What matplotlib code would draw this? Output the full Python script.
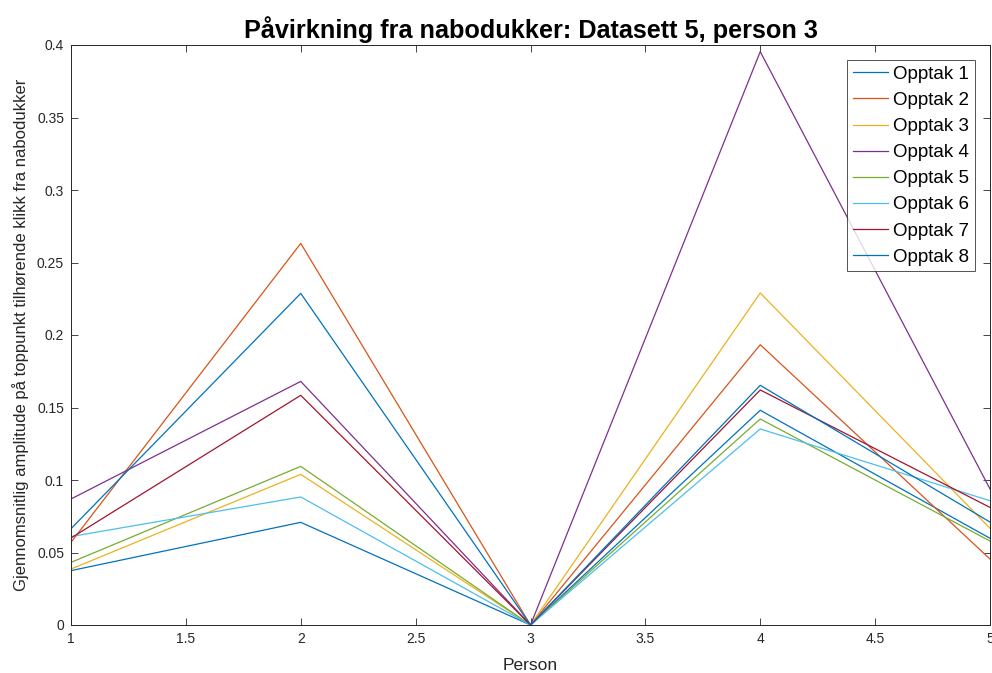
import matplotlib
matplotlib.use("Agg")
import matplotlib.pyplot as plt

plt.rcParams['font.family'] = ['Liberation Sans', 'DejaVu Sans']

persons = [1, 2, 3, 4, 5]
labels = [f"Opptak {i}" for i in range(1, 9)]

opptak_1 = [0.0375, 0.0708, 0.0, 0.1481, 0.0598]
opptak_2 = [0.0570, 0.2632, 0.0, 0.1933, 0.0455]
opptak_3 = [0.0386, 0.1039, 0.0, 0.2290, 0.0667]
opptak_4 = [0.0869, 0.1680, 0.0, 0.3954, 0.0938]
opptak_5 = [0.0432, 0.1094, 0.0, 0.1421, 0.0579]
opptak_6 = [0.0610, 0.0883, 0.0, 0.1352, 0.0857]
opptak_7 = [0.0600, 0.1584, 0.0, 0.1621, 0.0811]
opptak_8 = [0.0664, 0.2287, 0.0, 0.1653, 0.0710]
series = [opptak_1, opptak_2, opptak_3, opptak_4,
          opptak_5, opptak_6, opptak_7, opptak_8]

colors = ['#0072BD', '#D95319', '#EDB120', '#7E2F8E',
          '#77AC30', '#4DBEEE', '#A2142F', '#0072BD']

x_ticks = [1, 1.5, 2, 2.5, 3, 3.5, 4, 4.5, 5]
y_ticks = [0, 0.05, 0.1, 0.15, 0.2, 0.25, 0.3, 0.35, 0.4]

fig = plt.figure(figsize=(9.92, 6.73), dpi=100)
ax = fig.add_axes([71 / 992, 1 - 625 / 673, (990 - 71) / 992, (625 - 45) / 673])

for vals, col, lab in zip(series, colors, labels):
    ax.plot(persons, vals, color=col, lw=0.9, label=lab)

ax.set_xlim(1, 5)
ax.set_ylim(0, 0.4)
ax.set_xticks(x_ticks)
ax.set_xticklabels([f"{v:g}" for v in x_ticks])
ax.set_yticks(y_ticks)
ax.set_yticklabels([f"{v:g}" for v in y_ticks])

txt = '#262626'
ax.tick_params(direction='in', length=5, width=0.6, colors=txt,
               labelsize=10, top=True, right=True, pad=5)
for sp in ax.spines.values():
    sp.set_color(txt)
    sp.set_linewidth(0.7)

ax.set_xlabel('Person', fontsize=12.5, color=txt, labelpad=9)
ax.set_ylabel('Gjennomsnitlig amplitude på toppunkt tilhørende klikk fra nabodukker',
              fontsize=12.0, color=txt, labelpad=6)
ax.set_title('Påvirkning fra nabodukker: Datasett 5, person 3',
             fontsize=18.2, fontweight='bold', color='black', pad=5)

leg = ax.legend(loc='upper right', bbox_to_anchor=(0.9836, 0.974), fontsize=13.5,
                frameon=True, fancybox=False, edgecolor=txt, handlelength=1.9,
                handletextpad=0.27, labelspacing=0.48, borderpad=0.3,
                borderaxespad=0)
leg.get_frame().set_linewidth(0.7)

fig.savefig('out.png', dpi=100)
